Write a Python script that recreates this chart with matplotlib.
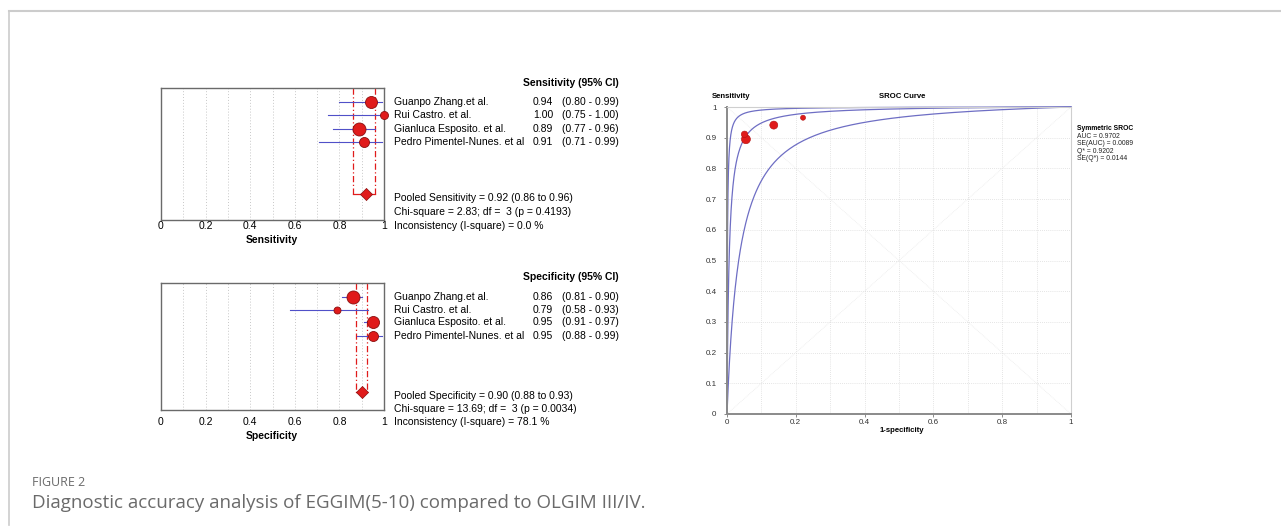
import numpy as np
import matplotlib
matplotlib.use("Agg")
import matplotlib.pyplot as plt
from matplotlib.lines import Line2D

# ── Data ──────────────────────────────────────────────────────────────────────
studies = ["Guanpo Zhang.et al.", "Rui Castro. et al.",
           "Gianluca Esposito. et al.", "Pedro Pimentel-Nunes. et al"]

sens = [0.94, 1.00, 0.89, 0.91]
sens_lo = [0.80, 0.75, 0.77, 0.71]
sens_hi = [0.99, 1.00, 0.96, 0.99]
sens_weight = [12, 8, 13, 10]          # marker diameter (px) ~ study weight
sens_pooled = [0.92, 0.86, 0.96]       # estimate, low, high
sens_stats = ["Pooled Sensitivity = 0.92 (0.86 to 0.96)",
              "Chi-square = 2.83; df =  3 (p = 0.4193)",
              "Inconsistency (I-square) = 0.0 %"]

spec = [0.86, 0.79, 0.95, 0.95]
spec_lo = [0.81, 0.58, 0.91, 0.88]
spec_hi = [0.90, 0.93, 0.97, 0.99]
spec_weight = [13, 7, 12, 10]
spec_pooled = [0.90, 0.875, 0.925]
spec_stats = ["Pooled Specificity = 0.90 (0.88 to 0.93)",
              "Chi-square = 13.69; df =  3 (p = 0.0034)",
              "Inconsistency (I-square) = 78.1 %"]

# SROC points (1-specificity, sensitivity with continuity correction)
roc_fpr = [0.136, 0.221, 0.055, 0.051]
roc_tpr = [0.941, 0.965, 0.895, 0.911]
roc_weight = [8, 5, 9, 6.5]
# log diagnostic odds ratio for lower CI, SROC, upper CI curves
sroc_lndor = [3.35, 5.1, 6.8]
sroc_stats = ["AUC = 0.9702", "SE(AUC) = 0.0089", "Q* = 0.9202", "SE(Q*) = 0.0144"]

W, H = 1281, 527
fig = plt.figure(figsize=(W / 100, H / 100), dpi=100)
plt.rcParams['font.family'] = ['Liberation Sans', 'DejaVu Sans']


def fx(px):
    return px / W


def fy(py):
    return 1 - py / H


def add_axes_px(left, top, right, bottom):
    return fig.add_axes([fx(left), fy(bottom), (right - left) / W, (bottom - top) / H])


RED = "#e01b1b"
EDGE = "#8a0f0f"
BLUE = "#5050c8"
FS = 7.5


def forest(top, bottom, est, lo, hi, wts, pooled, stats, header, xlabel,
           row_px, stat_px, tick_px, label_px, header_px):
    ax = add_axes_px(161, top, 384, bottom)
    unit = 13.0
    ax.set_xlim(0, 1)
    ax.set_ylim((bottom - top) / unit, 0)
    rows = [(r - top) / unit for r in row_px]
    dia_y = (stat_px[0] - 4 - top) / unit

    for g in np.arange(0.1, 0.95, 0.1):
        ax.axvline(g, color="#c8c8c8", lw=0.7, ls=(0, (1, 2)), zorder=0)

    # pooled CI lines
    for v in pooled[1:]:
        ax.plot([v, v], [0, dia_y], color=RED, lw=0.9, ls=(0, (5, 2, 1, 2)), zorder=1)
    ax.plot([pooled[1], pooled[2]], [dia_y, dia_y], color=RED, lw=0.9, zorder=1)

    for y, e, l, h, w in zip(rows, est, lo, hi, wts):
        ax.plot([l, h], [y, y], color=BLUE, lw=0.8, zorder=2)
        ax.scatter([e], [y], s=(w / 1.389) ** 2, color=RED, edgecolor=EDGE,
                   linewidth=0.6, zorder=3, clip_on=False)
    ax.scatter([pooled[0]], [dia_y], marker="D", s=38, color=RED,
               edgecolor=EDGE, linewidth=0.5, zorder=4)

    ax.set_xticks([])
    ax.set_yticks([])
    for s in ax.spines.values():
        s.set_color("#6a6a6a")
        s.set_linewidth(1.0)

    for t, lab in zip([0, 0.2, 0.4, 0.6, 0.8, 1.0], ["0", "0.2", "0.4", "0.6", "0.8", "1"]):
        fig.text(fx(161 + 223 * t), fy(tick_px), lab, ha="center", va="center", fontsize=FS)
    fig.text(fx(272), fy(label_px), xlabel, ha="center", va="center",
             fontsize=FS, fontweight="bold")

    fig.text(fx(523), fy(header_px), header, ha="left", va="center",
             fontsize=FS, fontweight="bold")
    for y, name, e, l, h in zip(row_px, studies, est, lo, hi):
        fig.text(fx(394), fy(y), name, ha="left", va="center", fontsize=FS)
        fig.text(fx(533), fy(y), f"{e:.2f}", ha="left", va="center", fontsize=FS)
        fig.text(fx(562), fy(y), f"({l:.2f} - {h:.2f})", ha="left", va="center", fontsize=FS)
    for y, s in zip(stat_px, stats):
        fig.text(fx(394), fy(y), s, ha="left", va="center", fontsize=FS)


forest(88, 220, sens, sens_lo, sens_hi, sens_weight, sens_pooled, sens_stats,
       "Sensitivity (95% CI)", "Sensitivity",
       [102, 115, 129, 142], [198, 212, 226], 226, 240, 83)
forest(283, 410, spec, spec_lo, spec_hi, spec_weight, spec_pooled, spec_stats,
       "Specificity (95% CI)", "Specificity",
       [297, 310, 322, 336], [396, 409, 422], 422, 436, 277)

# ── SROC curve ────────────────────────────────────────────────────────────────
ax = add_axes_px(727, 107, 1071, 414)
ax.set_xlim(0, 1)
ax.set_ylim(0, 1)
for g in np.arange(0.1, 0.95, 0.1):
    ax.axvline(g, color="#dcdcdc", lw=0.6, ls=(0, (1, 1.5)), zorder=0)
    ax.axhline(g, color="#dcdcdc", lw=0.6, ls=(0, (1, 1.5)), zorder=0)
ax.plot([0, 1], [0, 1], color="#ececec", lw=0.6, ls=(0, (1, 1)), zorder=0)
ax.plot([0, 1], [1, 0], color="#ececec", lw=0.6, ls=(0, (1, 1)), zorder=0)

fpr = np.concatenate([[0.0], np.logspace(-6, 0, 600)[:-1], [1.0]])
with np.errstate(divide="ignore"):
    lg = np.log(fpr / (1 - fpr))
for d in sroc_lndor:
    tpr = 1 / (1 + np.exp(-(lg + d)))
    ax.plot(fpr, tpr, color="#6e6ec4", lw=0.9, zorder=2, clip_on=False)

ax.scatter(roc_fpr, roc_tpr, s=[(w / 1.389) ** 2 for w in roc_weight], color=RED,
           edgecolor="#b01010", linewidth=0.4, zorder=3)

ax.set_xticks([0, 0.2, 0.4, 0.6, 0.8, 1.0])
ax.set_xticklabels(["0", "0.2", "0.4", "0.6", "0.8", "1"])
ax.set_yticks(np.round(np.arange(0, 1.01, 0.1), 1))
ax.set_yticklabels(["0"] + [f"{v:.1f}" for v in np.arange(0.1, 0.95, 0.1)] + ["1"])
ax.tick_params(labelsize=5.8, length=2.5, width=0.6, color="#777", labelcolor="#333")
ax.tick_params(axis="x", pad=0.8)
ax.tick_params(axis="y", pad=5)
ax.spines["left"].set_color("#8a8a8a")
ax.spines["bottom"].set_color("#8a8a8a")
ax.spines["left"].set_linewidth(1.4)
ax.spines["bottom"].set_linewidth(1.4)
ax.spines["top"].set_color("#cfcfcf")
ax.spines["right"].set_color("#cfcfcf")

fig.text(fx(712), fy(97), "Sensitivity", fontsize=5.6, fontweight="bold", va="center")
fig.text(fx(902), fy(97), "SROC Curve", fontsize=5.6, fontweight="bold", ha="center", va="center")
fig.text(fx(902), fy(430), "1-specificity", fontsize=5.6, fontweight="bold", ha="center", va="center")
fig.text(fx(1077), fy(129), "Symmetric SROC", fontsize=4.9, fontweight="bold", va="center")
for i, s in enumerate(sroc_stats):
    fig.text(fx(1077), fy(136.5 + 7.4 * i), s, fontsize=4.9, va="center", color="#222")

# ── Frame and caption ─────────────────────────────────────────────────────────
fig.add_artist(Line2D([fx(9), 1], [fy(11), fy(11)], color="#cccccc", lw=1.5))
fig.add_artist(Line2D([fx(9), fx(9)], [fy(11), fy(525)], color="#cccccc", lw=1.2))
fig.text(fx(32), fy(482), "FIGURE 2", fontsize=9, color="#6a6a6a", va="center",
         family=["Open Sans", "DejaVu Sans"])
fig.text(fx(32), fy(503), "Diagnostic accuracy analysis of EGGIM(5-10) compared to OLGIM III/IV.",
         fontsize=13.5, color="#6a6a6a", va="center", family=["Open Sans", "DejaVu Sans"])

fig.savefig("out.png", dpi=100)
